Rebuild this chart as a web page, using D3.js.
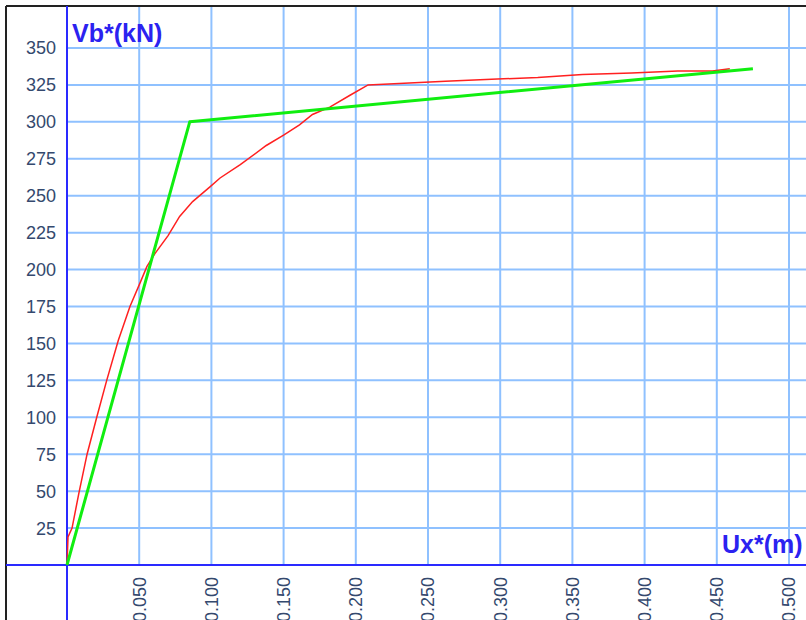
<!DOCTYPE html>
<html>
<head>
<meta charset="utf-8">
<script src="https://cdn.jsdelivr.net/npm/d3@7"></script>
<style>
  html, body { margin: 0; padding: 0; background: #fff; }
  svg { display: block; }
</style>
</head>
<body>
<div id="chart"></div>
<script>
// pushover capacity curve (red), Ux* in m, Vb* in kN
const curveU = [0, 0.0007, 0.0035, 0.0083, 0.0139, 0.0206, 0.0275, 0.0355, 0.0436, 0.0506,
  0.0553, 0.061, 0.070, 0.078, 0.087, 0.099, 0.106, 0.120, 0.138, 0.150, 0.161, 0.170,
  0.182, 0.196, 0.2085, 0.230, 0.262, 0.298, 0.326, 0.357, 0.391, 0.423, 0.447, 0.459];
const curveV = [0, 19, 25, 49, 75, 100, 125, 152, 175, 191,
  202, 211, 223, 236, 246, 256, 262, 271, 284, 291, 298, 305,
  310, 318, 325, 326, 327.5, 329, 330, 332, 333, 334.5, 334.5, 336];

// bilinear idealisation (green)
const bilinU = [0, 0.085, 0.475];
const bilinV = [0, 300, 336];

const xTicks = [0.05, 0.1, 0.15, 0.2, 0.25, 0.3, 0.35, 0.4, 0.45, 0.5];
const yTicks = [25, 50, 75, 100, 125, 150, 175, 200, 225, 250, 275, 300, 325, 350];

const W = 806, H = 620;
const x0 = 67, y0 = 565;  // where the axes cross

const svg = d3.select("#chart").append("svg")
    .attr("width", W)
    .attr("height", H);

const x = d3.scaleLinear().domain([0, 0.5]).range([x0, 789]);
const y = d3.scaleLinear().domain([0, 350]).range([y0, 48]);

const gridColor = "#8fc1ff";
const axisColor = "#2a2aff";
const labelFont = "'Liberation Sans', Arial, sans-serif";

// grid
svg.append("g").selectAll("line")
    .data(xTicks)
    .enter().append("line")
    .attr("x1", d => x(d)).attr("x2", d => x(d))
    .attr("y1", 6).attr("y2", y0)
    .attr("stroke", gridColor)
    .attr("stroke-width", 2);

svg.append("g").selectAll("line")
    .data(yTicks)
    .enter().append("line")
    .attr("x1", x0).attr("x2", W)
    .attr("y1", d => y(d)).attr("y2", d => y(d))
    .attr("stroke", gridColor)
    .attr("stroke-width", 2);

// frame (top and left edges)
svg.append("line").attr("x1", 6).attr("x2", W).attr("y1", 6).attr("y2", 6)
    .attr("stroke", "#222").attr("stroke-width", 2);
svg.append("line").attr("x1", 6).attr("x2", 6).attr("y1", 6).attr("y2", H)
    .attr("stroke", "#222").attr("stroke-width", 2);

// axes through the origin
svg.append("line").attr("x1", 6).attr("x2", W).attr("y1", y0).attr("y2", y0)
    .attr("stroke", axisColor).attr("stroke-width", 2);
svg.append("line").attr("x1", x0).attr("x2", x0).attr("y1", 6).attr("y2", H)
    .attr("stroke", axisColor).attr("stroke-width", 2);

// tick labels
svg.append("g").selectAll("text")
    .data(yTicks)
    .enter().append("text")
    .attr("x", 56)
    .attr("y", d => y(d))
    .attr("dy", "0.36em")
    .attr("text-anchor", "end")
    .style("font-family", labelFont)
    .style("font-size", "18px")
    .attr("fill", "#34496e")
    .text(d => d);

svg.append("g").selectAll("text")
    .data(xTicks)
    .enter().append("text")
    .attr("transform", d => "translate(" + x(d) + "," + 577 + ") rotate(-90)")
    .attr("dy", "0.36em")
    .attr("text-anchor", "end")
    .style("font-family", labelFont)
    .style("font-size", "18px")
    .attr("fill", "#34496e")
    .text(d => d3.format(".3f")(d));

// lines
const line = d3.line()
    .x(d => x(d[0]))
    .y(d => y(d[1]));

svg.append("path")
    .datum(d3.zip(curveU, curveV))
    .attr("fill", "none")
    .attr("stroke", "#ff2020")
    .attr("stroke-width", 1.5)
    .attr("d", line);

svg.append("path")
    .datum(d3.zip(bilinU, bilinV))
    .attr("fill", "none")
    .attr("stroke", "#10ee10")
    .attr("stroke-width", 3)
    .attr("stroke-linejoin", "round")
    .attr("d", line);

// axis titles
svg.append("text")
    .attr("x", 72).attr("y", 42)
    .style("font-family", labelFont)
    .style("font-size", "25px")
    .style("font-weight", "bold")
    .attr("fill", "#2b22f0")
    .text("Vb*(kN)");

svg.append("text")
    .attr("x", 722).attr("y", 553)
    .style("font-family", labelFont)
    .style("font-size", "25px")
    .style("font-weight", "bold")
    .attr("fill", "#2b22f0")
    .text("Ux*(m)");
</script>
</body>
</html>
